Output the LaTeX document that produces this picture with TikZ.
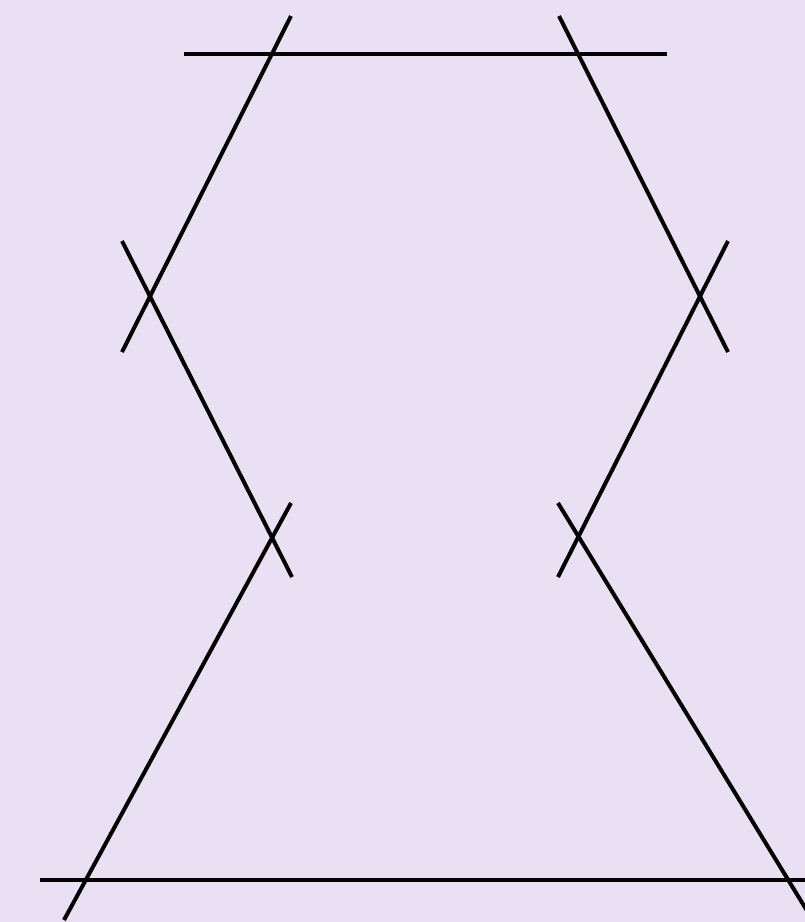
\documentclass[tikz,border=0pt]{standalone}
\definecolor{bg}{HTML}{E9E1F3}
\begin{document}
\begin{tikzpicture}[x=1pt,y=-1pt,seg/.style={line width=4pt,black}]
\fill[bg] (0,0) rectangle (805,922);
\useasboundingbox (0,0) rectangle (805,922);
\clip (0,0) rectangle (805,922);
% extended segment end points
\coordinate (t1) at (184,54);  \coordinate (t2) at (667,54);
\coordinate (a1) at (291,16);  \coordinate (a2) at (122,352);
\coordinate (b1) at (122,241); \coordinate (b2) at (292,577);
\coordinate (c1) at (291,503); \coordinate (c2) at (64,920);
\coordinate (d1) at (40,880);  \coordinate (d2) at (810,880);
\coordinate (e1) at (559,16);  \coordinate (e2) at (728,352);
\coordinate (f1) at (728,241); \coordinate (f2) at (558,577);
\coordinate (g1) at (558,503); \coordinate (g2) at (820,932);
\draw[seg] (t1) -- (t2);
\draw[seg] (a1) -- (a2);
\draw[seg] (b1) -- (b2);
\draw[seg] (c1) -- (c2);
\draw[seg] (d1) -- (d2);
\draw[seg] (e1) -- (e2);
\draw[seg] (f1) -- (f2);
\draw[seg] (g1) -- (g2);
\end{tikzpicture}
\end{document}
